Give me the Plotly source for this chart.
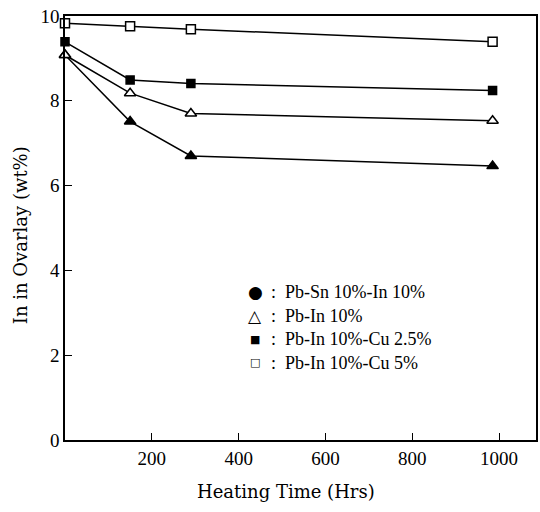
import plotly.graph_objects as go

hours = [0, 150, 290, 985]
pbsn_in10 = [9.08, 7.51, 6.70, 6.46]
pb_in10 = [9.08, 8.18, 7.70, 7.53]
pb_in10_cu25 = [9.39, 8.49, 8.41, 8.24]
pb_in10_cu5 = [9.83, 9.76, 9.69, 9.39]

x_ticks = [200, 400, 600, 800, 1000]
y_ticks = [0, 2, 4, 6, 8, 10]

legend_symbols = ["●", "△", "■", "□"]
legend_labels = [":  Pb-Sn 10%-In 10%", ":  Pb-In 10%", ":  Pb-In 10%-Cu 2.5%", ":  Pb-In 10%-Cu 5%"]
x_title = "Heating Time (Hrs)"
y_title = "In in Ovarlay (wt%)"

FONT = "Liberation Serif"
TFONT = "DejaVu Serif"
W, H = 540, 512
L, R, T, B = 65, 2, 16, 72
pw, ph = W - L - R, H - T - B

series = [
    (pbsn_in10, "triangle-up", "black", 10),
    (pb_in10, "triangle-up", "white", 10),
    (pb_in10_cu25, "square", "black", 8),
    (pb_in10_cu5, "square", "white", 9),
]

fig = go.Figure()
for ys, sym, fill, sz in series:
    fig.add_trace(go.Scatter(
        x=hours, y=ys, mode="lines+markers",
        line=dict(color="black", width=1.5),
        marker=dict(symbol=sym, size=sz, color=fill,
                    line=dict(color="black", width=1.5)),
        cliponaxis=False, showlegend=False,
    ))

def px(xp):
    return (xp - L) / pw

def py(yp):
    return (H - B - yp) / ph

ann = []
rows_py = [292, 315.5, 339, 362.5]
sym_sizes = [17, 17, 11, 11]
for i, (s, lab) in enumerate(zip(legend_symbols, legend_labels)):
    ann.append(dict(x=px(256), y=py(rows_py[i]), xref="paper", yref="paper", text=s,
                    showarrow=False, xanchor="center", yanchor="middle",
                    font=dict(family="DejaVu Sans", size=sym_sizes[i], color="black")))
    ann.append(dict(x=px(270), y=py(rows_py[i]), xref="paper", yref="paper", text=lab,
                    showarrow=False, xanchor="left", yanchor="middle",
                    font=dict(family=FONT, size=18, color="black")))

ann.append(dict(x=px(287), y=py(491), xref="paper", yref="paper", text=x_title,
                showarrow=False, xanchor="center", yanchor="middle",
                font=dict(family=TFONT, size=18, color="black")))
ann.append(dict(x=px(20), y=py(235), xref="paper", yref="paper", text=y_title,
                showarrow=False, xanchor="center", yanchor="middle", textangle=-90,
                font=dict(family=TFONT, size=18, color="black")))

fig.update_layout(
    width=W, height=H,
    margin=dict(l=L, r=R, t=T, b=B),
    paper_bgcolor="white", plot_bgcolor="white",
    font=dict(family=FONT, size=17, color="black"),
    annotations=ann,
    xaxis=dict(range=[0, 1085], tickvals=x_ticks, ticks="inside", ticklen=7,
               tickcolor="black", tickwidth=1.2, showgrid=False, zeroline=False,
               showline=True, linecolor="black", linewidth=1.5, mirror=True,
               tickfont=dict(family=FONT, size=19)),
    yaxis=dict(range=[0, 10], tickvals=y_ticks, ticks="inside", ticklen=7,
               tickcolor="black", tickwidth=1.2, showgrid=False, zeroline=False,
               showline=True, linecolor="black", linewidth=1.5, mirror=True,
               tickfont=dict(family=FONT, size=19)),
)

fig.write_html("out.html")
